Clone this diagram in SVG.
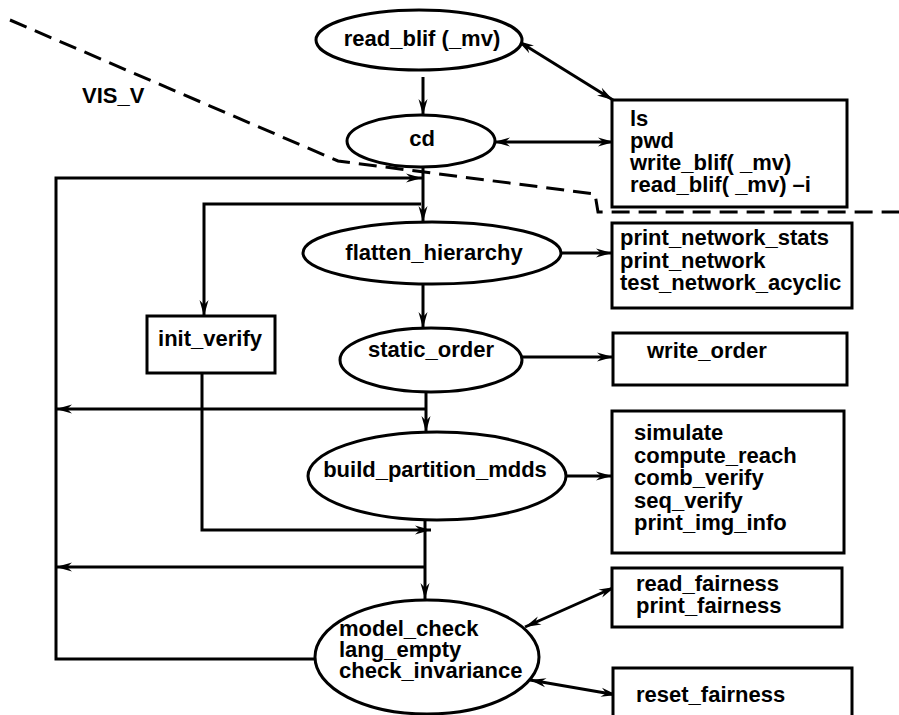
<svg xmlns="http://www.w3.org/2000/svg" width="899" height="715" viewBox="0 0 899 715">
  <style>
    .shape { fill: #fff; stroke: #000; stroke-width: 3; }
    .conn { fill: none; stroke: #000; stroke-width: 3; }
    .dash { fill: none; stroke: #000; stroke-width: 3; stroke-dasharray: 18 9; }
    text { font-family: "Liberation Sans", Arial, Helvetica, sans-serif; font-weight: bold; font-size: 22px; fill: #000; }
    .c { text-anchor: middle; }
  </style>
  <defs>
    <marker id="ah" markerUnits="userSpaceOnUse" markerWidth="18" markerHeight="12" viewBox="-17 -6 18 12" refX="0" refY="0" orient="auto-start-reverse">
      <path d="M0,0 L-16,-4.5 L-11,0 L-16,4.5 Z" fill="#000"/>
    </marker>
  </defs>

  <rect width="899" height="715" fill="#fff"/>

  <!-- boundary of the VIS_V region -->
  <path class="dash" d="M10,20 L338,161 L595,194 L598,212 H899"/>
  <text x="82" y="103">VIS_V</text>

  <!-- connectors -->
  <g id="connectors">
    <path class="conn" d="M423,77 V115" marker-end="url(#ah)"/>
    <path class="conn" d="M518,41 L613,100" marker-start="url(#ah)" marker-end="url(#ah)"/>
    <path class="conn" d="M494,142 H614" marker-start="url(#ah)" marker-end="url(#ah)"/>
    <path class="conn" d="M423,167 V222" marker-end="url(#ah)"/>
    <path class="conn" d="M315,659 H56 V178 H422" marker-end="url(#ah)"/>
    <path class="conn" d="M421,204 H204 V316" marker-end="url(#ah)"/>
    <path class="conn" d="M426,409 H56" marker-end="url(#ah)"/>
    <path class="conn" d="M202,373 V530 H431" marker-end="url(#ah)"/>
    <path class="conn" d="M425,567 H56" marker-end="url(#ah)"/>
    <path class="conn" d="M423,285 V328" marker-end="url(#ah)"/>
    <path class="conn" d="M426,393 V432" marker-end="url(#ah)"/>
    <path class="conn" d="M425,520 V599" marker-end="url(#ah)"/>
    <path class="conn" d="M561,253 H612" marker-end="url(#ah)"/>
    <path class="conn" d="M522,357 H613" marker-end="url(#ah)"/>
    <path class="conn" d="M567,476 H612" marker-end="url(#ah)"/>
    <path class="conn" d="M525,627 L615,587" marker-start="url(#ah)" marker-end="url(#ah)"/>
    <path class="conn" d="M530,680 L617,695" marker-start="url(#ah)" marker-end="url(#ah)"/>
  </g>

  <!-- command nodes -->
  <g id="read_blif">
    <ellipse class="shape" cx="419" cy="40" rx="103" ry="30"/>
    <text class="c" x="422" y="46">read_blif (_mv)</text>
  </g>
  <g id="cd">
    <ellipse class="shape" cx="421" cy="141" rx="74" ry="26"/>
    <text class="c" x="422" y="146">cd</text>
  </g>
  <g id="flatten_hierarchy">
    <ellipse class="shape" cx="432" cy="253" rx="129" ry="31"/>
    <text class="c" x="434" y="260">flatten_hierarchy</text>
  </g>
  <g id="static_order">
    <ellipse class="shape" cx="431" cy="360" rx="91" ry="32"/>
    <text class="c" x="431" y="357">static_order</text>
  </g>
  <g id="build_partition_mdds">
    <ellipse class="shape" cx="437" cy="476" rx="129" ry="44"/>
    <text class="c" x="435" y="477">build_partition_mdds</text>
  </g>
  <g id="model_check">
    <ellipse class="shape" cx="427" cy="657" rx="112" ry="57"/>
    <text x="339" y="636">model_check<tspan x="339" dy="21">lang_empty</tspan><tspan x="339" dy="21">check_invariance</tspan></text>
  </g>
  <g id="init_verify">
    <rect class="shape" x="147" y="316" width="128" height="57"/>
    <text class="c" x="210" y="346">init_verify</text>
  </g>

  <!-- side command boxes -->
  <g id="file_cmds">
    <rect class="shape" x="612" y="100" width="235" height="107"/>
    <text x="630" y="126">ls<tspan x="630" dy="22">pwd</tspan><tspan x="630" dy="22">write_blif( _mv)</tspan><tspan x="630" dy="22">read_blif( _mv) –i</tspan></text>
  </g>
  <g id="network_cmds">
    <rect class="shape" x="612" y="223" width="240" height="85"/>
    <text x="620" y="245">print_network_stats<tspan x="620" dy="22.5">print_network</tspan><tspan x="620" dy="22.5">test_network_acyclic</tspan></text>
  </g>
  <g id="order_cmds">
    <rect class="shape" x="613" y="333" width="234" height="52"/>
    <text x="647" y="358">write_order</text>
  </g>
  <g id="verify_cmds">
    <rect class="shape" x="612" y="411" width="232" height="142"/>
    <text x="634" y="440">simulate<tspan x="634" dy="22.5">compute_reach</tspan><tspan x="634" dy="22.5">comb_verify</tspan><tspan x="634" dy="22.5">seq_verify</tspan><tspan x="634" dy="22.5">print_img_info</tspan></text>
  </g>
  <g id="fairness_cmds">
    <rect class="shape" x="612" y="568" width="230" height="59"/>
    <text x="636" y="591">read_fairness<tspan x="636" dy="21.5">print_fairness</tspan></text>
  </g>
  <g id="reset_cmds">
    <rect class="shape" x="613" y="668" width="239" height="60"/>
    <text x="636" y="702">reset_fairness</text>
  </g>
</svg>
